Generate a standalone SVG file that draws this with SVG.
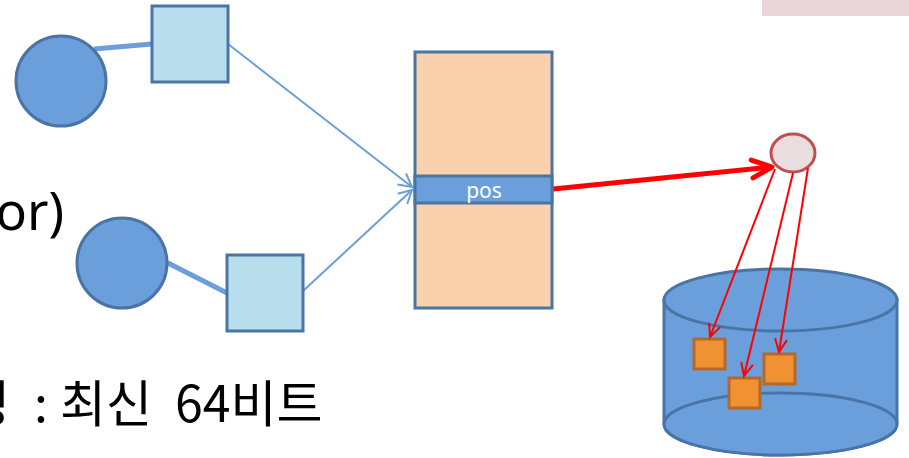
<svg xmlns="http://www.w3.org/2000/svg" width="909" height="458" viewBox="0 0 909 458">
<style>
.blue{fill:#6a9fdc;stroke:#4b74a6;stroke-width:3}
.lb{fill:#b8deee;stroke:#4b74a6;stroke-width:3}
.txt{font-family:"Noto Sans","Noto Sans CJK KR",sans-serif;font-size:52px;fill:#000}
.ktxt{font-family:"Noto Sans CJK KR","Noto Sans",sans-serif;font-size:50px;fill:#000}
.org{fill:#f09232;stroke:#b4682a;stroke-width:3}
</style>
<defs>
<marker id="ab" markerUnits="userSpaceOnUse" markerWidth="20" markerHeight="20" refX="0" refY="0" orient="auto" overflow="visible">
<path d="M-13,-7 L0,0 L-13,7" fill="none" stroke="#6a9fdc" stroke-width="2"/>
</marker>
<marker id="ar" markerUnits="userSpaceOnUse" markerWidth="30" markerHeight="30" refX="0" refY="0" orient="auto" overflow="visible">
<path d="M-20,-9 L0,0 L-20,9" fill="none" stroke="#ff0000" stroke-width="5" stroke-linecap="round" stroke-linejoin="round"/>
</marker>
<marker id="arT" markerUnits="userSpaceOnUse" markerWidth="20" markerHeight="20" refX="0" refY="0" orient="auto" overflow="visible">
<path d="M-13,-6 L0,0 L-13,6" fill="none" stroke="#ff0000" stroke-width="2"/>
</marker>
</defs>

<rect x="762" y="0" width="147" height="16" fill="#ead6da"/>

<text class="txt" x="64" y="230" text-anchor="end">or)</text>
<text class="ktxt" y="422"><tspan x="-36">정</tspan><tspan x="34">:</tspan><tspan x="60">최신</tspan><tspan x="175">64비트</tspan></text>

<g id="cylinder">
<path d="M664,300 L664,424 A116.5,31 0 0 0 897,424 L897,300 Z" class="blue"/>
<ellipse cx="780.5" cy="424" rx="116.5" ry="31" class="blue"/>
<ellipse cx="780.5" cy="300" rx="116.5" ry="31" class="blue"/>
</g>

<g id="connectors">
<line x1="94" y1="49" x2="152" y2="44" stroke="#6a9fdc" stroke-width="5"/>
<line x1="166" y1="262" x2="227" y2="293" stroke="#6a9fdc" stroke-width="5"/>
<line x1="228" y1="44" x2="412" y2="187" stroke="#6a9fdc" stroke-width="2" marker-end="url(#ab)"/>
<line x1="303" y1="291" x2="412" y2="190" stroke="#6a9fdc" stroke-width="2" marker-end="url(#ab)"/>
<line x1="553" y1="189" x2="772" y2="167" stroke="#ff0000" stroke-width="5" marker-end="url(#ar)"/>
</g>

<g id="circle1"><circle cx="61" cy="81" r="45" class="blue"/></g>
<g id="square1"><rect x="152" y="6" width="76" height="76" class="lb"/></g>
<g id="circle2"><circle cx="122" cy="263" r="45" class="blue"/></g>
<g id="square2"><rect x="227" y="255" width="76" height="76" class="lb"/></g>

<g id="array">
<rect x="415" y="52" width="137" height="256" fill="#f9d2ad" stroke="#4b74a6" stroke-width="3"/>
<rect x="415" y="176" width="137" height="27" fill="#6a9fdc" stroke="#4b74a6" stroke-width="3"/>
<text x="484" y="198" text-anchor="middle" font-family="Noto Sans, sans-serif" font-size="21" fill="#ffffff">pos</text>
</g>

<g id="ellipse"><ellipse cx="793" cy="153" rx="22" ry="19" fill="#eadde0" stroke="#c0504d" stroke-width="3"/></g>

<g id="item1"><rect x="694" y="339" width="31" height="30" class="org"/></g>
<g id="item2"><rect x="729" y="378" width="31" height="30" class="org"/></g>
<g id="item3"><rect x="764" y="354" width="31" height="30" class="org"/></g>

<g id="red-connectors">
<line x1="775" y1="169" x2="710" y2="337" stroke="#ff0000" stroke-width="2" marker-end="url(#arT)"/>
<line x1="793" y1="173" x2="744" y2="376" stroke="#ff0000" stroke-width="2" marker-end="url(#arT)"/>
<line x1="808" y1="168" x2="779" y2="352" stroke="#ff0000" stroke-width="2" marker-end="url(#arT)"/>
</g>
</svg>
